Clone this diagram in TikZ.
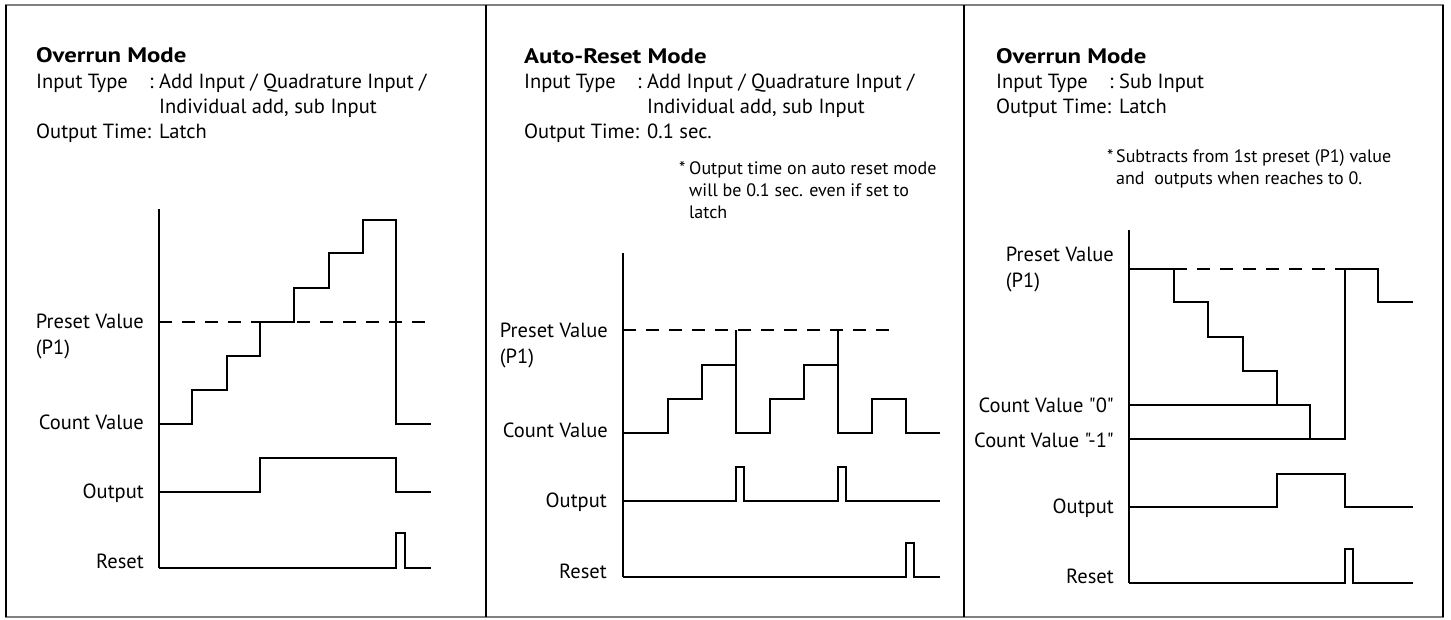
\documentclass[tikz,border=0pt]{standalone}
\usepackage{fontspec}
\setmainfont{PT Sans}[Ligatures=TeXOff]
\newfontfamily\headfont{PT Sans}[FakeStretch=1.18]
\begin{document}
\begin{tikzpicture}[x=1pt,y=-1pt,
  lbl/.style={font=\fontsize{20.5}{24}\selectfont, inner sep=0pt},
  hdr/.style={lbl, anchor=base west},
  ttl/.style={hdr, font=\fontsize{21}{24}\headfont\bfseries},
  note/.style={font=\fontsize{18}{22}\selectfont, inner sep=0pt, anchor=base west},
  rlbl/.style={lbl, anchor=base east},
  sig/.style={line width=1.4pt, line join=miter},
  axisline/.style={line width=1.4pt},
  preset/.style={line width=1.4pt, dash pattern=on 13pt off 10pt},
  rule/.style={line width=2.5pt, draw=black!50},
  side/.style={line width=1.6pt},
]
\useasboundingbox (0,0) rectangle (1451,619);

% frame and panel dividers
\draw[rule] (5,5) -- (1444,5);
\draw[rule] (5,617) -- (1444,617);
\draw[side] (6,5) -- (6,617);
\draw[side] (486,5) -- (486,617);
\draw[side] (964,5) -- (964,617);
\draw[side] (1443,5) -- (1443,617);

% ---------------- panel 1: overrun mode, add input ----------------
\node[ttl] (t1) at (36,62) {Overrun Mode};
\node[hdr] (it1) at (36,88) {Input Type};
\node[hdr] (c1) at (149,88) {:};
\node[hdr] (iv1) at (159,88) {Add Input / Quadrature Input /};
\node[hdr] (iw1) at (159,113) {Individual add, sub Input};
\node[hdr] (ot1) at (36,138) {Output Time:};
\node[hdr] (ov1) at (159,138) {Latch};

\node[rlbl] (pv1) at (144,328) {Preset Value};
\node[lbl, anchor=base west, yshift=-26pt] (pp1) at (pv1.base west) {(P1)};
\node[rlbl] (cv1) at (144,429) {Count Value};
\node[rlbl] (out1) at (144,498) {Output};
\node[rlbl] (rs1) at (144,568) {Reset};

\draw[axisline] (159,209) -- (159,568);
\draw[preset] (159,322) -- (431,322);
\draw[sig] (159,424) -| (192,390) -| (227,356) -| (260,322) -| (294,288)
  -| (329,253) -| (363,220) -| (396,424) -- (431,424);
\draw[sig] (159,492) -| (260,458) -| (396,492) -- (431,492);
\draw[sig] (159,568) -| (396,533) -| (405,568) -- (431,568);

% ---------------- panel 2: auto-reset mode ----------------
\node[ttl] (t2) at (524,63) {Auto-Reset Mode};
\node[hdr] (it2) at (524,88) {Input Type};
\node[hdr] (c2) at (637,88) {:};
\node[hdr] (iv2) at (647,88) {Add Input / Quadrature Input /};
\node[hdr] (iw2) at (647,113) {Individual add, sub Input};
\node[hdr] (ot2) at (524,138) {Output Time:};
\node[hdr] (ov2) at (647,138) {0.1 sec.};
\node[note] (s2) at (679,174) {*};
\node[note] (n2a) at (689,174) {Output time on auto reset mode};
\node[note] (n2b) at (689,196) {will be 0.1 sec. even if set to};
\node[note] (n2c) at (689,218) {latch};

\node[rlbl] (pv2) at (608,337) {Preset Value};
\node[lbl, anchor=base west, yshift=-26pt] (pp2) at (pv2.base west) {(P1)};
\node[rlbl] (cv2) at (608,437) {Count Value};
\node[rlbl] (out2) at (607,507) {Output};
\node[rlbl] (rs2) at (607,578) {Reset};

\draw[axisline] (623,253) -- (623,577);
\draw[preset] (623,330) -- (895,330);
\draw[sig] (623,433) -| (668,399) -| (702,365) -| (736,330) -- (736,433)
  -| (770,399) -| (804,365) -| (838,330) -- (838,433)
  -| (872,399) -| (906,433) -- (940,433);
\draw[sig] (623,501) -| (736,467) -| (744,501) -| (838,467) -| (846,501) -- (940,501);
\draw[sig] (623,577) -| (906,543) -| (914,577) -- (940,577);

% ---------------- panel 3: overrun mode, sub input ----------------
\node[ttl] (t3) at (996,63) {Overrun Mode};
\node[hdr] (it3) at (996,88) {Input Type};
\node[hdr] (c3) at (1109,88) {:};
\node[hdr] (iv3) at (1119,88) {Sub Input};
\node[hdr] (ot3) at (996,113) {Output Time:};
\node[hdr] (ov3) at (1119,113) {Latch};
\node[note] (s3) at (1107,162) {*};
\node[note] (n3a) at (1116,162) {Subtracts from 1st preset (P1) value};
\node[note] (n3b) at (1116,184) {and\ \ outputs when reaches to 0.};

\node[rlbl] (pv3) at (1114,261) {Preset Value};
\node[lbl, anchor=base west, yshift=-26pt] (pp3) at (pv3.base west) {(P1)};
\node[rlbl] (cz3) at (1114,412) {Count Value "0"};
\node[rlbl] (cm3) at (1114,447) {Count Value "-1"};
\node[rlbl] (out3) at (1114,513) {Output};
\node[rlbl] (rs3) at (1114,583) {Reset};

\draw[axisline] (1129,230) -- (1129,583);
\draw[preset] (1174,269) -- (1345,269);
\draw[sig] (1129,269) -| (1174,302) -| (1208,337) -| (1243,371) -| (1277,405);
\draw[sig] (1129,405) -| (1310,439);
\draw[sig] (1129,439) -| (1345,269) -| (1378,302) -- (1413,302);
\draw[sig] (1129,507) -| (1277,474) -| (1345,507) -- (1413,507);
\draw[sig] (1129,583) -| (1345,549) -| (1353,583) -- (1413,583);
\end{tikzpicture}
\end{document}
